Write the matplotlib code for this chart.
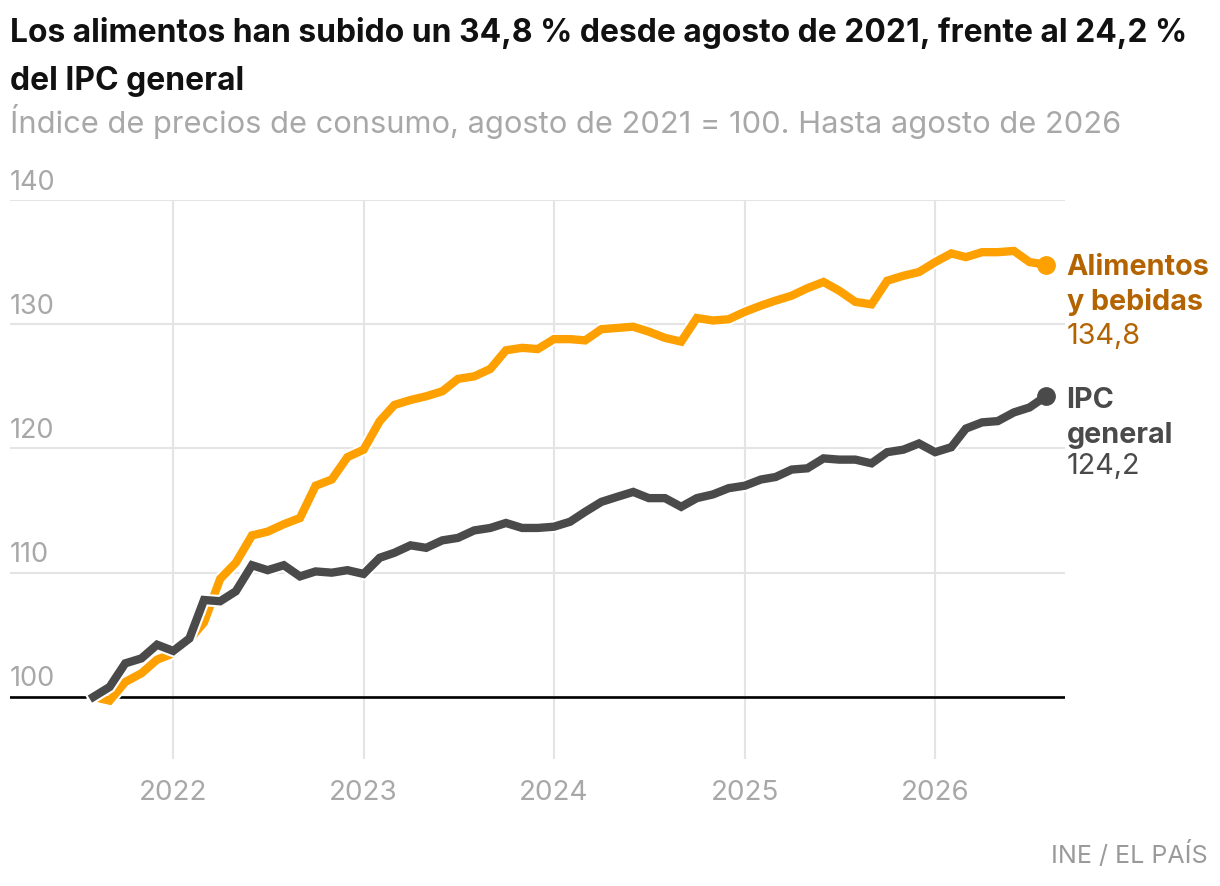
import numpy as np
import pandas as pd
import matplotlib
matplotlib.use('Agg')
import matplotlib.pyplot as plt
import matplotlib.patheffects as pe
import matplotlib.transforms as mtransforms

# monthly index, agosto 2021 = 100
months = pd.date_range('2021-08-01', '2026-08-01', freq='MS')

ipc_general = [100.0, 100.8, 102.7, 103.1, 104.2, 103.7, 104.7, 107.8, 107.7, 108.5,
               110.6, 110.2, 110.6, 109.7, 110.1, 110.0, 110.2, 109.9, 111.2, 111.6,
               112.2, 112.0, 112.6, 112.8, 113.4, 113.6, 114.0, 113.6, 113.6, 113.7,
               114.1, 114.9, 115.7, 116.1, 116.5, 116.0, 116.0, 115.3, 116.0, 116.3,
               116.8, 117.0, 117.5, 117.7, 118.3, 118.4, 119.2, 119.1, 119.1, 118.8,
               119.7, 119.9, 120.4, 119.7, 120.1, 121.6, 122.1, 122.2, 122.9, 123.3,
               124.2]

alimentos = [100.0, 99.7, 101.2, 101.9, 103.0, 103.5, 104.6, 106.0, 109.5, 110.8,
             113.0, 113.3, 113.9, 114.4, 117.0, 117.5, 119.3, 119.9, 122.2, 123.5,
             123.9, 124.2, 124.6, 125.6, 125.8, 126.4, 127.9, 128.1, 128.0, 128.8,
             128.8, 128.7, 129.6, 129.7, 129.8, 129.4, 128.9, 128.6, 130.5, 130.3,
             130.4, 131.0, 131.5, 131.9, 132.3, 132.9, 133.4, 132.7, 131.8, 131.6,
             133.5, 133.9, 134.2, 135.0, 135.7, 135.4, 135.8, 135.8, 135.9, 135.0,
             134.8]

years = [2022, 2023, 2024, 2025, 2026]
y_ticks = [100, 110, 120, 130, 140]

title_1 = "Los alimentos han subido un 34,8 % desde agosto de 2021, frente al 24,2 %"
title_2 = "del IPC general"
subtitle = "Índice de precios de consumo, agosto de 2021 = 100. Hasta agosto de 2026"
source = "INE / EL PAÍS"

orange = '#fda000'
orange_txt = '#b36400'
dark = '#4a4a4a'
light = '#a8a8a8'
grid_c = '#e4e4e4'

plt.rcParams['font.family'] = ['Inter', 'DejaVu Sans']

W, H = 1220, 886
fig = plt.figure(figsize=(W / 100, H / 100), dpi=100)
ax = fig.add_axes([10 / W, 1 - 759 / H, 1055 / W, 559 / H])

ax.set_ylim(95, 140)
ax.set_xlim(pd.Timestamp('2021-02-22'), pd.Timestamp('2026-09-07'))

for s in ax.spines.values():
    s.set_visible(False)

ax.set_yticks(y_ticks)
ax.set_yticklabels([])
ax.set_xticks([pd.Timestamp(f'{y}-01-01') for y in years])
ax.set_xticklabels([str(y) for y in years], fontsize=20, color=light)
ax.tick_params(length=0)
ax.tick_params(axis='x', pad=15)
ax.grid(color=grid_c, lw=1.5, zorder=0)
ax.set_axisbelow(True)
ax.axhline(100, color='black', lw=1.9, zorder=1)

trans = mtransforms.blended_transform_factory(ax.transAxes, ax.transData)
for v in y_ticks:
    ax.annotate(str(v), xy=(0, v), xycoords=trans, xytext=(0, 7.5),
                textcoords='offset points', va='baseline', ha='left',
                fontsize=19.5, color=light)

stroke = [pe.Stroke(linewidth=9, foreground='white'), pe.Normal()]
ax.plot(months, alimentos, color=orange, lw=6, solid_joinstyle='miter',
        path_effects=stroke, zorder=3, clip_on=False)
ax.plot(months, ipc_general, color=dark, lw=6, solid_joinstyle='miter',
        path_effects=stroke, zorder=4, clip_on=False)
ax.plot(months[-1], alimentos[-1], 'o', color=orange, ms=12.5, zorder=5, clip_on=False)
ax.plot(months[-1], ipc_general[-1], 'o', color=dark, ms=12.5, zorder=5, clip_on=False)

def end_label(value, lines, color, offsets):
    for (txt, weight), dy in zip(lines, offsets):
        ax.annotate(txt, xy=(months[-1], value), xytext=(15, dy),
                    textcoords='offset points', va='baseline', ha='left',
                    fontsize=20.7, fontweight=weight, color=color,
                    annotation_clip=False)

end_label(alimentos[-1], [('Alimentos', 'bold'), ('y bebidas', 'bold'),
                          (f'{alimentos[-1]:.1f}'.replace('.', ','), 'normal')],
          orange_txt, [-7.5, -32.5, -57])
end_label(ipc_general[-1], [('IPC', 'bold'), ('general', 'bold'),
                            (f'{ipc_general[-1]:.1f}'.replace('.', ','), 'normal')],
          dark, [-8.5, -34, -56])

fig.text(10 / W, 1 - 42 / H, title_1, fontsize=22.9, fontweight='bold',
         color='#111111', va='baseline', ha='left')
fig.text(10 / W, 1 - 90 / H, title_2, fontsize=22.9, fontweight='bold',
         color='#111111', va='baseline', ha='left')
fig.text(10 / W, 1 - 133 / H, subtitle, fontsize=22.2, color=light,
         va='baseline', ha='left')
fig.text(1208 / W, 1 - 863 / H, source, fontsize=18, color='#9a9a9a',
         va='baseline', ha='right')

fig.savefig('out.png', dpi=100)
